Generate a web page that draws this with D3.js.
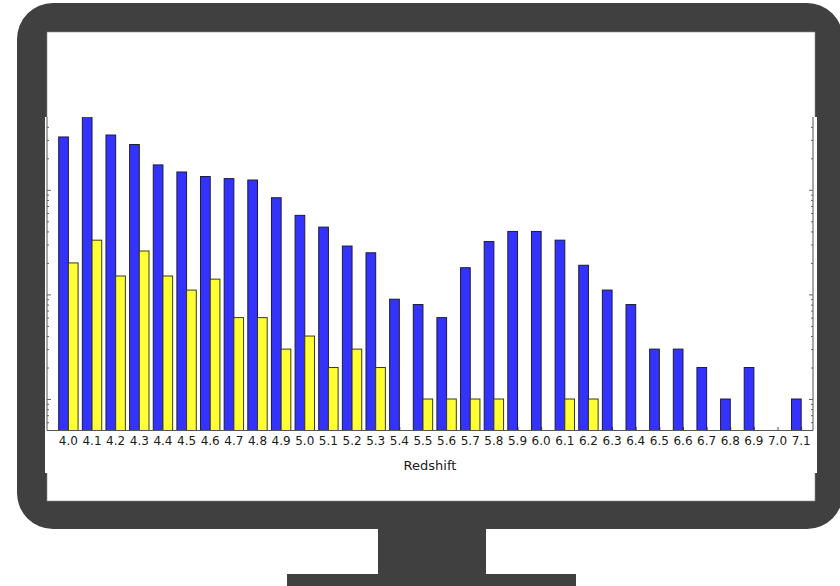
<!DOCTYPE html>
<html>
<head>
<meta charset="utf-8">
<script src="https://cdn.jsdelivr.net/npm/d3@7"></script>
<style>
  html, body { margin: 0; padding: 0; background: #fff; }
  svg { display: block; }
  text { font-family: "DejaVu Sans", sans-serif; fill: #1a1a1a; }
</style>
</head>
<body>
<svg id="chart" width="840" height="586"></svg>
<script>
// ---- data ----
const categories = ["4.0","4.1","4.2","4.3","4.4","4.5","4.6","4.7","4.8","4.9",
  "5.0","5.1","5.2","5.3","5.4","5.5","5.6","5.7","5.8","5.9",
  "6.0","6.1","6.2","6.3","6.4","6.5","6.6","6.7","6.8","6.9","7.0","7.1"];
const blueCounts = [320, 560, 334, 271, 173, 148, 134, 128, 124, 84,
  57, 44, 29, 25, 9, 8, 6, 18, 32, 40,
  40, 33, 19, 11, 8, 3, 3, 2, 1, 2, 0, 1];
const yellowCounts = [20, 33, 15, 26, 15, 11, 14, 6, 6, 3,
  4, 2, 3, 2, 0, 1, 1, 1, 1, 0,
  0, 1, 1, 0, 0, 0, 0, 0, 0, 0, 0, 0];
const yMajorTicks = [1, 10, 100];
const yMinorTicks = [0.6, 0.7, 0.8, 0.9, 2, 3, 4, 5, 6, 7, 8, 9,
  20, 30, 40, 50, 60, 70, 80, 90, 200, 300, 400];
const xLabel = "Redshift";

(function () {
// ---- frame (monitor) ----
const svg = d3.select("#chart");
svg.append("rect").attr("x", 0).attr("y", 0).attr("width", 840).attr("height", 586).attr("fill", "#fff");
const frameColor = "#404040";
svg.append("rect").attr("x", 378).attr("y", 520).attr("width", 108).attr("height", 56).attr("fill", frameColor);
svg.append("rect").attr("x", 287).attr("y", 574).attr("width", 289).attr("height", 12).attr("fill", frameColor);
svg.append("rect").attr("x", 17).attr("y", 3).attr("width", 826).attr("height", 526)
  .attr("rx", 36).attr("ry", 36).attr("fill", frameColor);
svg.append("rect").attr("x", 47).attr("y", 32).attr("width", 768).attr("height", 469).attr("fill", "#fff")
  .attr("stroke", "#8a8a8a").attr("stroke-width", 0.6);
svg.append("rect").attr("x", 45).attr("y", 117).attr("width", 772).attr("height", 356).attr("fill", "#fff");

// ---- chart ----
const pLeft = 47, pRight = 813, pTop = 117, pBottom = 430.5;
const x = d3.scaleLinear().domain([-0.905, 31.5]).range([pLeft, pRight]);
const y = d3.scaleLog().domain([0.5, 500]).range([pBottom, 116.7]);
const bw = 0.41;

svg.append("clipPath").attr("id", "plotclip")
  .append("rect").attr("x", pLeft).attr("y", pTop).attr("width", pRight - pLeft).attr("height", pBottom - pTop + 1);

// bottom ticks (inward)
const xAxis = d3.axisBottom(x).tickValues(d3.range(categories.length))
  .tickSizeInner(-3.5).tickSizeOuter(0).tickFormat("");
const xa = svg.append("g").attr("transform", `translate(0,${pBottom})`).call(xAxis);
xa.select(".domain").remove();
xa.selectAll(".tick line").attr("stroke", "#555");

const g = svg.append("g").attr("clip-path", "url(#plotclip)");

const blueData = categories.map((c, i) => ({i, v: blueCounts[i]})).filter(d => d.v > 0);
const yellowData = categories.map((c, i) => ({i, v: yellowCounts[i]})).filter(d => d.v > 0);

g.selectAll("rect.blue").data(blueData).join("rect").attr("class", "blue")
  .attr("x", d => x(d.i - bw)).attr("width", d => x(d.i) - x(d.i - bw))
  .attr("y", d => y(d.v)).attr("height", d => pBottom - y(d.v))
  .attr("fill", "#3333fd").attr("stroke", "#1c1c3a").attr("stroke-width", 1);

g.selectAll("rect.yellow").data(yellowData).join("rect").attr("class", "yellow")
  .attr("x", d => x(d.i)).attr("width", d => x(d.i + bw) - x(d.i))
  .attr("y", d => y(d.v)).attr("height", d => pBottom - y(d.v))
  .attr("fill", "#ffff33").attr("stroke", "#3a3a1c").attr("stroke-width", 1);

// y ticks (log, inward) on both spines
function yTicks(axisFn, xpos, values, size) {
  const a = axisFn(y).tickValues(values).tickSizeInner(-size).tickSizeOuter(0).tickFormat("");
  const s = svg.append("g").attr("transform", `translate(${xpos},0)`).call(a);
  s.select(".domain").remove();
  s.selectAll(".tick line").attr("stroke", "#666");
}
yTicks(d3.axisLeft, pLeft, yMajorTicks, 4);
yTicks(d3.axisLeft, pLeft, yMinorTicks, 2);
yTicks(d3.axisRight, pRight, yMajorTicks, 4);
yTicks(d3.axisRight, pRight, yMinorTicks, 2);

// spines
svg.append("line").attr("x1", pLeft).attr("x2", pLeft).attr("y1", pTop).attr("y2", pBottom).attr("stroke", "#555");
svg.append("line").attr("x1", pRight).attr("x2", pRight).attr("y1", pTop).attr("y2", pBottom).attr("stroke", "#555");
svg.append("line").attr("x1", pLeft).attr("x2", pRight).attr("y1", pBottom).attr("y2", pBottom).attr("stroke", "#555");

// tick labels
svg.append("g").selectAll("text").data(categories).join("text")
  .attr("x", (d, i) => x(i)).attr("y", 445)
  .attr("text-anchor", "middle").attr("font-size", "12px").text(d => d);

svg.append("text").attr("x", 430).attr("y", 469.5).attr("text-anchor", "middle")
  .attr("font-size", "13px").text(xLabel);
})();
</script>
</body>
</html>
